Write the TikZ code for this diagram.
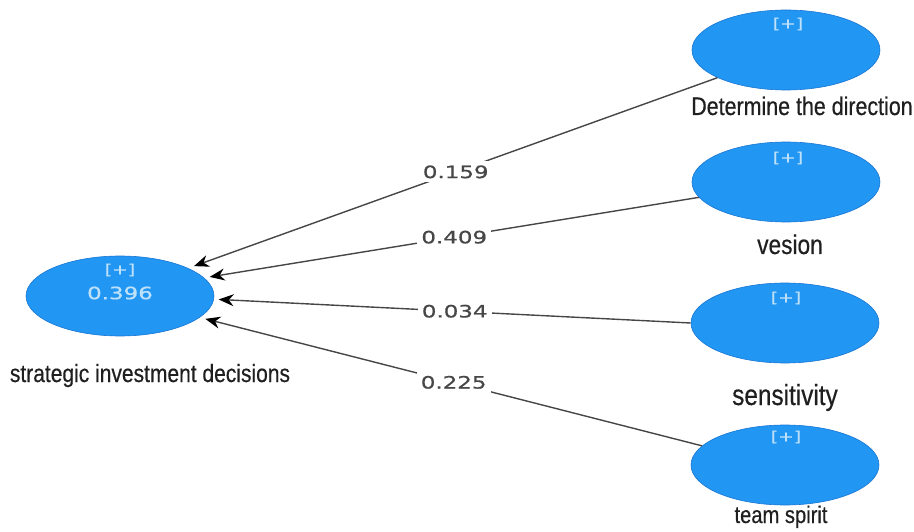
\documentclass[tikz,border=0pt]{standalone}
\usepackage{fontspec}
\usetikzlibrary{shapes.geometric,arrows.meta}
\newfontfamily\condfont[FakeStretch=0.84,FakeBold=0.4]{Liberation Sans}
\newfontfamily\numfont[FakeStretch=1.35,FakeBold=0.8]{DejaVu Sans}
\definecolor{blob}{RGB}{33,150,243}
\definecolor{blobedge}{RGB}{25,118,210}
\definecolor{lightt}{RGB}{190,225,250}
\definecolor{linegray}{RGB}{70,70,70}
\begin{document}
\begin{tikzpicture}[x=1pt,y=-1pt,
  lv/.style={ellipse, fill=blob, draw=blobedge, line width=0.6pt, minimum width=188pt, minimum height=80pt, inner sep=0pt},
  plustxt/.style={font=\numfont\fontsize{14}{14}\selectfont, text=lightt},
  rsq/.style={font=\numfont\fontsize{17}{17}\selectfont, text=lightt},
  lvname/.style={anchor=base, text=black!88, inner sep=0pt},
  pathline/.style={draw=linegray, line width=1.4pt, -{Stealth[length=15pt,width=12pt,color=black]}},
  coef/.style={font=\numfont\fontsize{17}{17}\selectfont, text=black!72, fill=white, inner sep=4pt}]
\useasboundingbox (0,0) rectangle (914,532);
% latent variables
\node[lv, outer sep=5pt] (L) at (120,296) {};
\node[lv] (R1) at (786,50) {};
\node[lv] (R2) at (786,182) {};
\node[lv] (R3) at (785,323) {};
\node[lv] (R4) at (785,465) {};
% inner texts
\node[plustxt] (Lp) at (120,270) {[+]};
\node[rsq] (Lr) at (120,293) {0.396};
\node[plustxt] (R1p) at (788,24) {[+]};
\node[plustxt] (R2p) at (788,158) {[+]};
\node[plustxt] (R3p) at (786,298) {[+]};
\node[plustxt] (R4p) at (786,437) {[+]};
% names
\node[lvname, font=\condfont\fontsize{25}{25}\selectfont] (Ln) at (150,382) {strategic investment decisions};
\node[lvname, font=\condfont\fontsize{25.5}{25.5}\selectfont] (R1n) at (802,115) {Determine the direction};
\node[lvname, font=\condfont\fontsize{27}{27}\selectfont] (R2n) at (790,254) {vesion};
\node[lvname, font=\condfont\fontsize{29}{29}\selectfont] (R3n) at (785,405) {sensitivity};
\node[lvname, font=\condfont\fontsize{24}{24}\selectfont] (R4n) at (781,523) {team spirit};
% paths
\draw[pathline] (R1.202) -- node[coef] {0.159} (L.22);
\draw[pathline] (R2.190) -- node[coef] {0.409} (L.12);
\draw[pathline] (R3.180) -- node[coef] {0.034} (L.-2);
\draw[pathline] (R4.167) -- node[coef] {0.225} (L.-15);
\end{tikzpicture}
\end{document}
